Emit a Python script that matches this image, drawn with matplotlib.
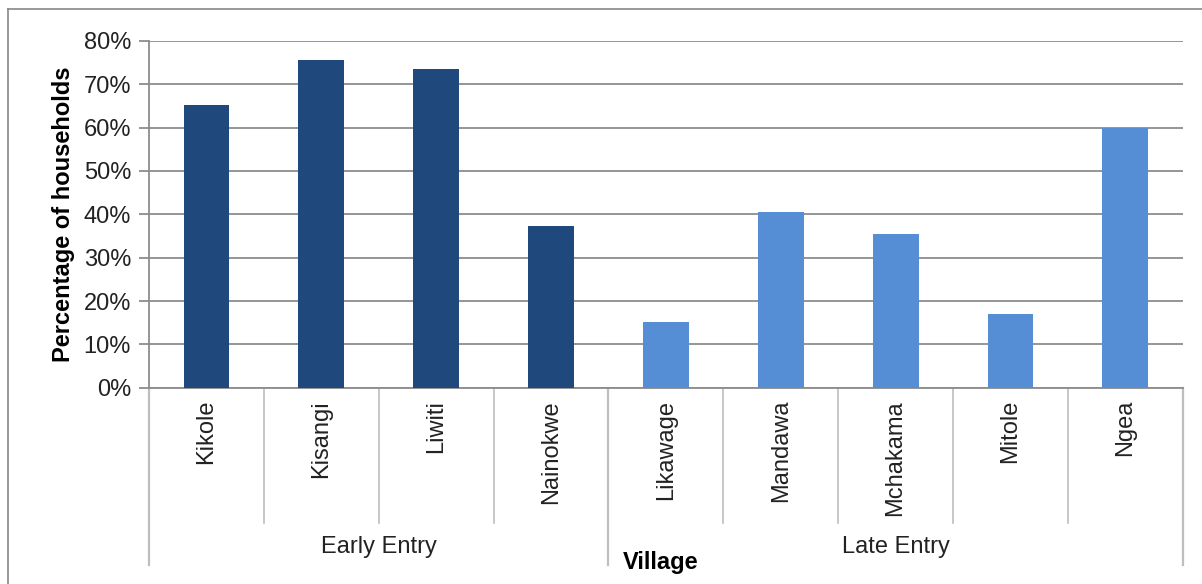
import matplotlib.pyplot as plt
from matplotlib.lines import Line2D
from matplotlib.ticker import PercentFormatter
import numpy as np

plt.rcParams['font.family'] = ['Liberation Sans', 'DejaVu Sans']

villages = ['Kikole', 'Kisangi', 'Liwiti', 'Nainokwe',
            'Likawage', 'Mandawa', 'Mchakama', 'Mitole', 'Ngea']
share = [65.2, 75.6, 73.5, 37.2, 15.1, 40.5, 35.5, 17.1, 59.8]
groups = ['Early Entry', 'Late Entry']
group_size = [4, 5]

dark_blue = '#1F497D'
light_blue = '#558ED5'
grid_col = '#8C8C8C'
sep_col = '#BEBEBE'

colors = [dark_blue] * group_size[0] + [light_blue] * group_size[1]
x = np.arange(len(villages))

fig = plt.figure(figsize=(12.02, 5.84), dpi=100)
ax = fig.add_axes([0.124, 0.336, 0.860, 0.594])

ax.bar(x, share, width=0.4, color=colors, zorder=3)

ax.set_xlim(-0.5, len(villages) - 0.5)
ax.set_ylim(0, 80)
ax.set_yticks(np.arange(0, 81, 10))
ax.yaxis.set_major_formatter(PercentFormatter(decimals=0))
ax.tick_params(axis='y', labelsize=17, colors=grid_col, labelcolor='#222222',
               length=7, width=1.3, pad=6)
ax.set_xticks([])
ax.grid(axis='y', color=grid_col, linewidth=1.3, zorder=0)
for side in ['top', 'right']:
    ax.spines[side].set_visible(False)
for side in ['left', 'bottom']:
    ax.spines[side].set_color(grid_col)
    ax.spines[side].set_linewidth(1.3)

ax.set_ylabel('Percentage of households', fontsize=17, fontweight='bold', labelpad=6)

# category labels (rotated) below axis
trans = ax.get_xaxis_transform()
for xi, name in zip(x, villages):
    ax.text(xi, -0.035, name, rotation=90, ha='center', va='top',
            fontsize=17, color='#222222', transform=trans)

# separators between categories
for k in range(1, len(villages)):
    ax.add_artist(Line2D([k - 0.5, k - 0.5], [0, -0.39], transform=trans,
                         color=sep_col, linewidth=1.2, clip_on=False))

# group separators and labels
edges = np.concatenate([[0], np.cumsum(group_size)]) - 0.5
for e in edges:
    ax.add_artist(Line2D([e, e], [0, -0.51], transform=trans,
                         color=sep_col, linewidth=1.6, clip_on=False))
for g, lo, hi in zip(groups, edges[:-1], edges[1:]):
    ax.text((lo + hi) / 2, -0.46, g, ha='center', va='center',
            fontsize=17, color='#222222', transform=trans)

ax.text(3.95, -0.505, 'Village', ha='center', va='center', fontsize=17,
        fontweight='bold', transform=trans)

# outer chart border (top and left visible)
fig.add_artist(Line2D([0.0067, 1.0], [0.985, 0.985], color='#888888', linewidth=1.2))
fig.add_artist(Line2D([0.0067, 0.0067], [0.0, 0.985], color='#888888', linewidth=1.2))

fig.savefig('out.png', dpi=100)
